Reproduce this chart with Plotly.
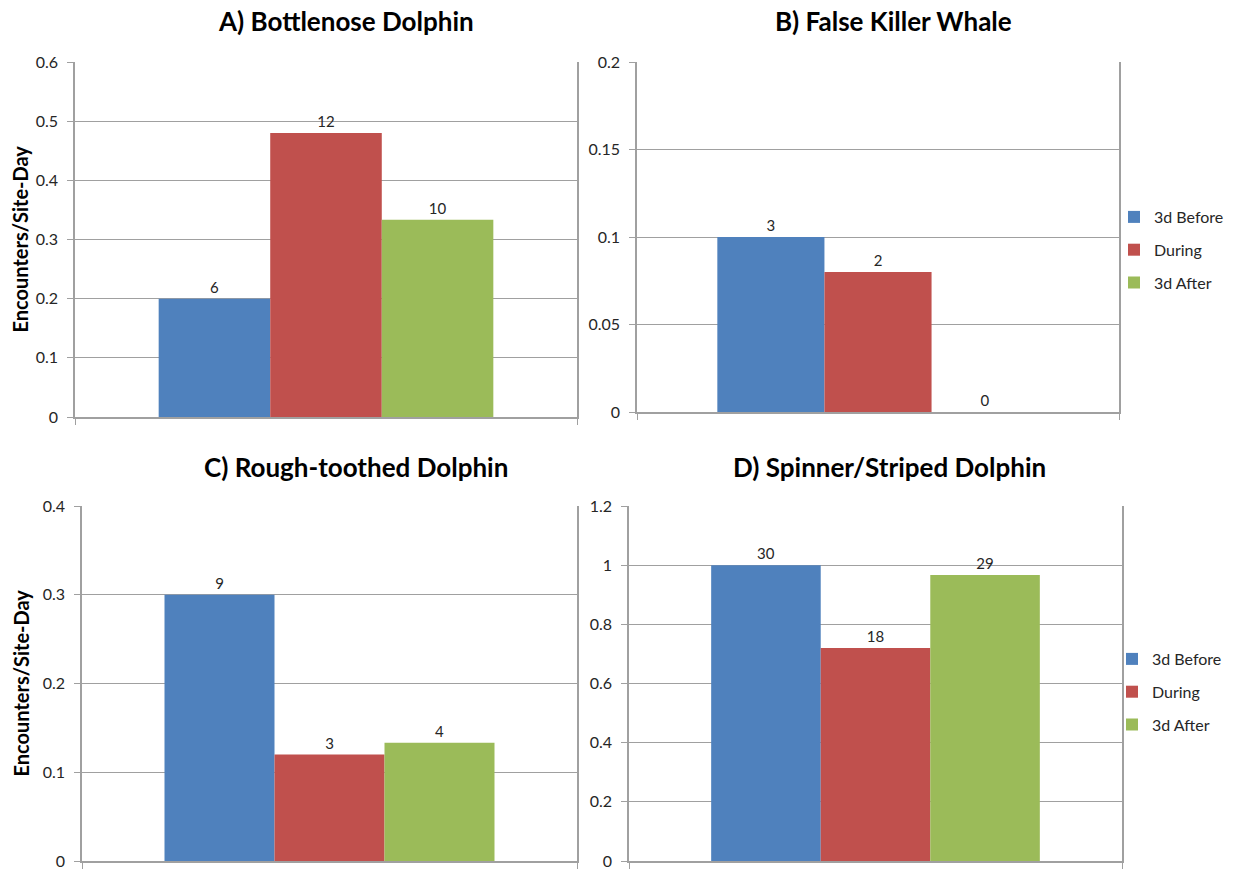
import plotly.graph_objects as go

# ---- data ----
series_names = ["3d Before", "During", "3d After"]
series_colors = ["#4F81BD", "#C0504D", "#9BBB59"]

panel_titles = ["A) Bottlenose Dolphin", "B) False Killer Whale",
                "C) Rough-toothed Dolphin", "D) Spinner/Striped Dolphin"]

rate_A = [0.2, 0.48, 0.3333]
rate_B = [0.1, 0.08, 0.0]
rate_C = [0.3, 0.12, 0.1333]
rate_D = [1.0, 0.72, 0.9667]

count_A = ["6", "12", "10"]
count_B = ["3", "2", "0"]
count_C = ["9", "3", "4"]
count_D = ["30", "18", "29"]

y_max = [0.6, 0.2, 0.4, 1.2]
y_step = [0.1, 0.05, 0.1, 0.2]

y_axis_title = "Encounters/Site-Day"

# ---- layout geometry (pixels) ----
W, H = 1233, 869
# (left, right, top, bottom) of each plot area in pixels
boxes = [(75, 577, 62, 417), (637, 1119, 62, 412),
         (82, 577, 506, 861), (629, 1122, 506, 861)]
title_pos = [(346, 21), (893, 21), (356, 467), (889, 467)]

FONT = "Lato"
GRID = "#a0a0a0"
TXT = "#262626"

fig = go.Figure()
rates = [rate_A, rate_B, rate_C, rate_D]
counts = [count_A, count_B, count_C, count_D]
legend_of = [None, "legend", None, "legend2"]

for p in range(4):
    ax = "" if p == 0 else str(p + 1)
    for s in range(3):
        fig.add_trace(go.Bar(
            x=[0], y=[rates[p][s]], name=series_names[s],
            marker=dict(color=series_colors[s], line=dict(width=0)),
            text=[counts[p][s]], textposition="outside",
            textfont=dict(family=FONT, size=15, color=TXT),
            cliponaxis=False,
            xaxis="x" + ax, yaxis="y" + ax,
            showlegend=legend_of[p] is not None,
            legend=legend_of[p] if legend_of[p] else "legend",
            legendgroup=f"g{p}_{s}",
            hoverinfo="skip",
        ))

layout = dict(
    width=W, height=H, margin=dict(l=0, r=0, t=0, b=0, autoexpand=False),
    paper_bgcolor="white", plot_bgcolor="white",
    barmode="group", bargap=1/3, bargroupgap=0,
    font=dict(family=FONT, size=15, color=TXT),
)

for p in range(4):
    l, r, t, b = boxes[p]
    key = "" if p == 0 else str(p + 1)
    layout["xaxis" + key] = dict(
        domain=[l / W, r / W], range=[-0.5, 0.5],
        anchor="y" + key, automargin=False,
        showgrid=False, zeroline=False,
        showline=True, linecolor=GRID, linewidth=1.5,
        tickvals=[-0.5, 0.5], ticks="outside", ticklen=6,
        tickcolor=GRID, showticklabels=False, fixedrange=True,
    )
    layout["yaxis" + key] = dict(
        domain=[1 - b / H, 1 - t / H], range=[0, y_max[p]],
        anchor="x" + key, dtick=y_step[p], tick0=0, automargin=False,
        showgrid=True, gridcolor=GRID, gridwidth=1,
        zeroline=False, showline=True, mirror=True,
        linecolor=GRID, linewidth=1.5,
        ticks="outside", ticklen=6, tickcolor=GRID,
        tickfont=dict(family=FONT, size=16, color=TXT),
        ticklabelstandoff=6, ticklabeloverflow="allow", fixedrange=True,
    )

legend_common = dict(
    xanchor="left", yanchor="middle", xref="container", yref="container",
    bgcolor="rgba(0,0,0,0)",
    font=dict(family=FONT, size=16, color=TXT),
    traceorder="grouped", tracegroupgap=9, itemclick=False,
)
layout["legend"] = dict(x=1114 / W, y=1 - 250 / H, **legend_common)
layout["legend2"] = dict(x=1112 / W, y=1 - 692 / H, **legend_common)

annotations = []
for p in range(4):
    cx, cy = title_pos[p]
    annotations.append(dict(
        x=cx / W, y=1 - cy / H, xref="paper", yref="paper",
        text="<b>" + panel_titles[p] + "</b>", showarrow=False,
        font=dict(family=FONT, size=26, color="#000000"),
        xanchor="center", yanchor="middle",
    ))
for p in (0, 2):
    l, r, t, b = boxes[p]
    annotations.append(dict(
        x=20 / W, y=1 - (t + b) / 2 / H, xref="paper", yref="paper",
        text="<b>" + y_axis_title + "</b>", showarrow=False, textangle=-90,
        font=dict(family=FONT, size=20, color="#000000"),
        xanchor="center", yanchor="middle",
    ))
layout["annotations"] = annotations

fig.update_layout(**layout)
fig.write_html(
    "out.html",
    config={"displayModeBar": False},
    post_script="document.body.style.margin='0';document.body.style.overflow='hidden';",
)
